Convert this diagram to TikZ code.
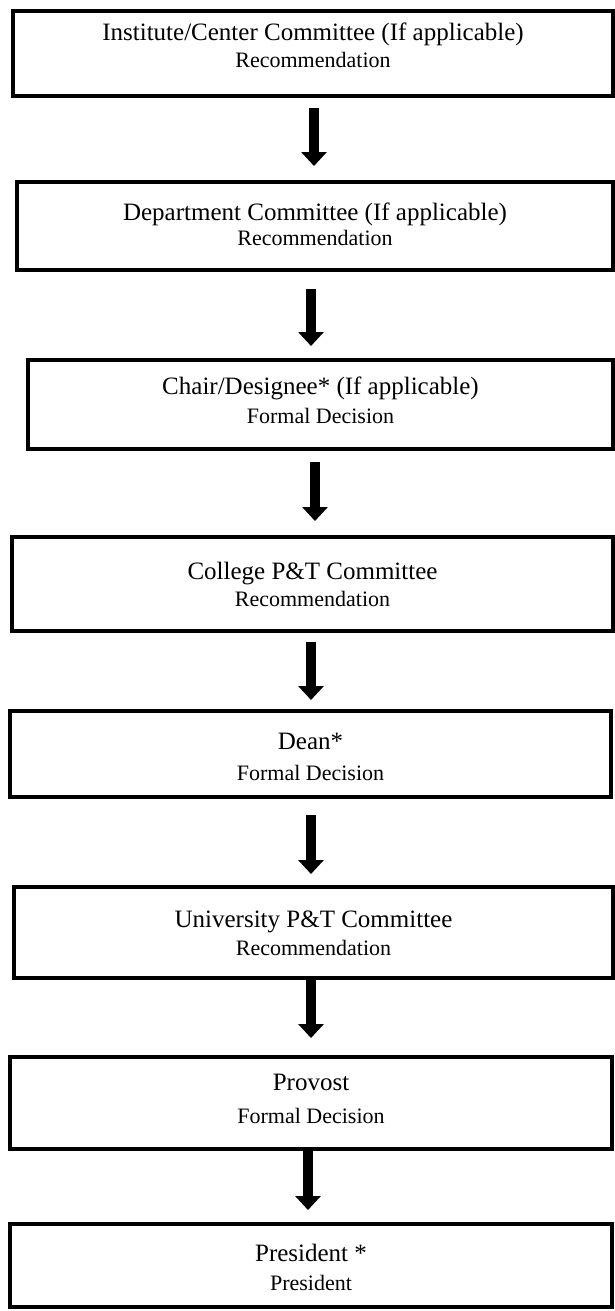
\documentclass[tikz,border=0pt]{standalone}
\usepackage{fontspec}
\setmainfont{Liberation Serif}
\usetikzlibrary{arrows.meta}
\begin{document}
\begin{tikzpicture}[x=1pt,y=-1pt,
  box/.style={draw, line width=4pt, inner sep=0pt, rectangle},
  maintext/.style={font=\fontsize{25}{30}\selectfont, inner sep=0pt},
  subtext/.style={font=\fontsize{22}{26}\selectfont, inner sep=0pt},
  flow/.style={line width=9.5pt, -{Triangle[width=25pt,length=14pt]}}]
\useasboundingbox (0,0) rectangle (615,1311);

% boxes
\node[box, minimum width=600pt, minimum height=85pt] (b1) at (313,53.5) {};
\node[box, minimum width=596pt, minimum height=88pt] (b2) at (315,226) {};
\node[box, minimum width=585pt, minimum height=89pt] (b3) at (320.5,404.5) {};
\node[box, minimum width=601pt, minimum height=94pt] (b4) at (312.5,584) {};
\node[box, minimum width=601pt, minimum height=86pt] (b5) at (310.5,754) {};
\node[box, minimum width=599pt, minimum height=91pt] (b6) at (313.5,932.5) {};
\node[box, minimum width=602pt, minimum height=92pt] (b7) at (311,1103) {};
\node[box, minimum width=602pt, minimum height=83pt] (b8) at (311,1265.5) {};

% texts
\node[maintext] (t1a) at (313,34) {Institute/Center Committee (If applicable)};
\node[subtext]  (t1b) at (313,60) {Recommendation};
\node[maintext] (t2a) at (315,214) {Department Committee (If applicable)};
\node[subtext]  (t2b) at (315,238) {Recommendation};
\node[maintext] (t3a) at (320.5,388) {Chair/Designee* (If applicable)};
\node[subtext]  (t3b) at (320.5,416) {Formal Decision};
\node[maintext] (t4a) at (312.5,574) {College P\&T Committee};
\node[subtext]  (t4b) at (312.5,599) {Recommendation};
\node[maintext] (t5a) at (310.5,741) {Dean*};
\node[subtext]  (t5b) at (310.5,773) {Formal Decision};
\node[maintext] (t6a) at (313.5,922) {University P\&T Committee};
\node[subtext]  (t6b) at (313.5,948) {Recommendation};
\node[maintext] (t7a) at (311,1082) {Provost};
\node[subtext]  (t7b) at (311,1116) {Formal Decision};
\node[maintext] (t8a) at (311,1253) {President *};
\node[subtext]  (t8b) at (311,1283) {President};

% arrow axes
\coordinate (c1) at (314,0);
\coordinate (c2) at (311,0);
\coordinate (c3) at (315,0);
\coordinate (c4) at (311,0);
\coordinate (c5) at (311,0);
\coordinate (c6) at (311,0);
\coordinate (c7) at (308,0);

\draw[flow, shorten <=10pt, shorten >=14pt] (b1.south -| c1) -- (b2.north -| c1);
\draw[flow, shorten <=17pt, shorten >=12pt] (b2.south -| c2) -- (b3.north -| c2);
\draw[flow, shorten <=11pt, shorten >=14pt] (b3.south -| c3) -- (b4.north -| c3);
\draw[flow, shorten <=9pt,  shorten >=9pt]  (b4.south -| c4) -- (b5.north -| c4);
\draw[flow, shorten <=16pt, shorten >=11pt] (b5.south -| c5) -- (b6.north -| c5);
\draw[flow, shorten <=0pt,  shorten >=17pt] (b6.south -| c6) -- (b7.north -| c6);
\draw[flow, shorten <=0pt,  shorten >=12pt] (b7.south -| c7) -- (b8.north -| c7);
\end{tikzpicture}
\end{document}
